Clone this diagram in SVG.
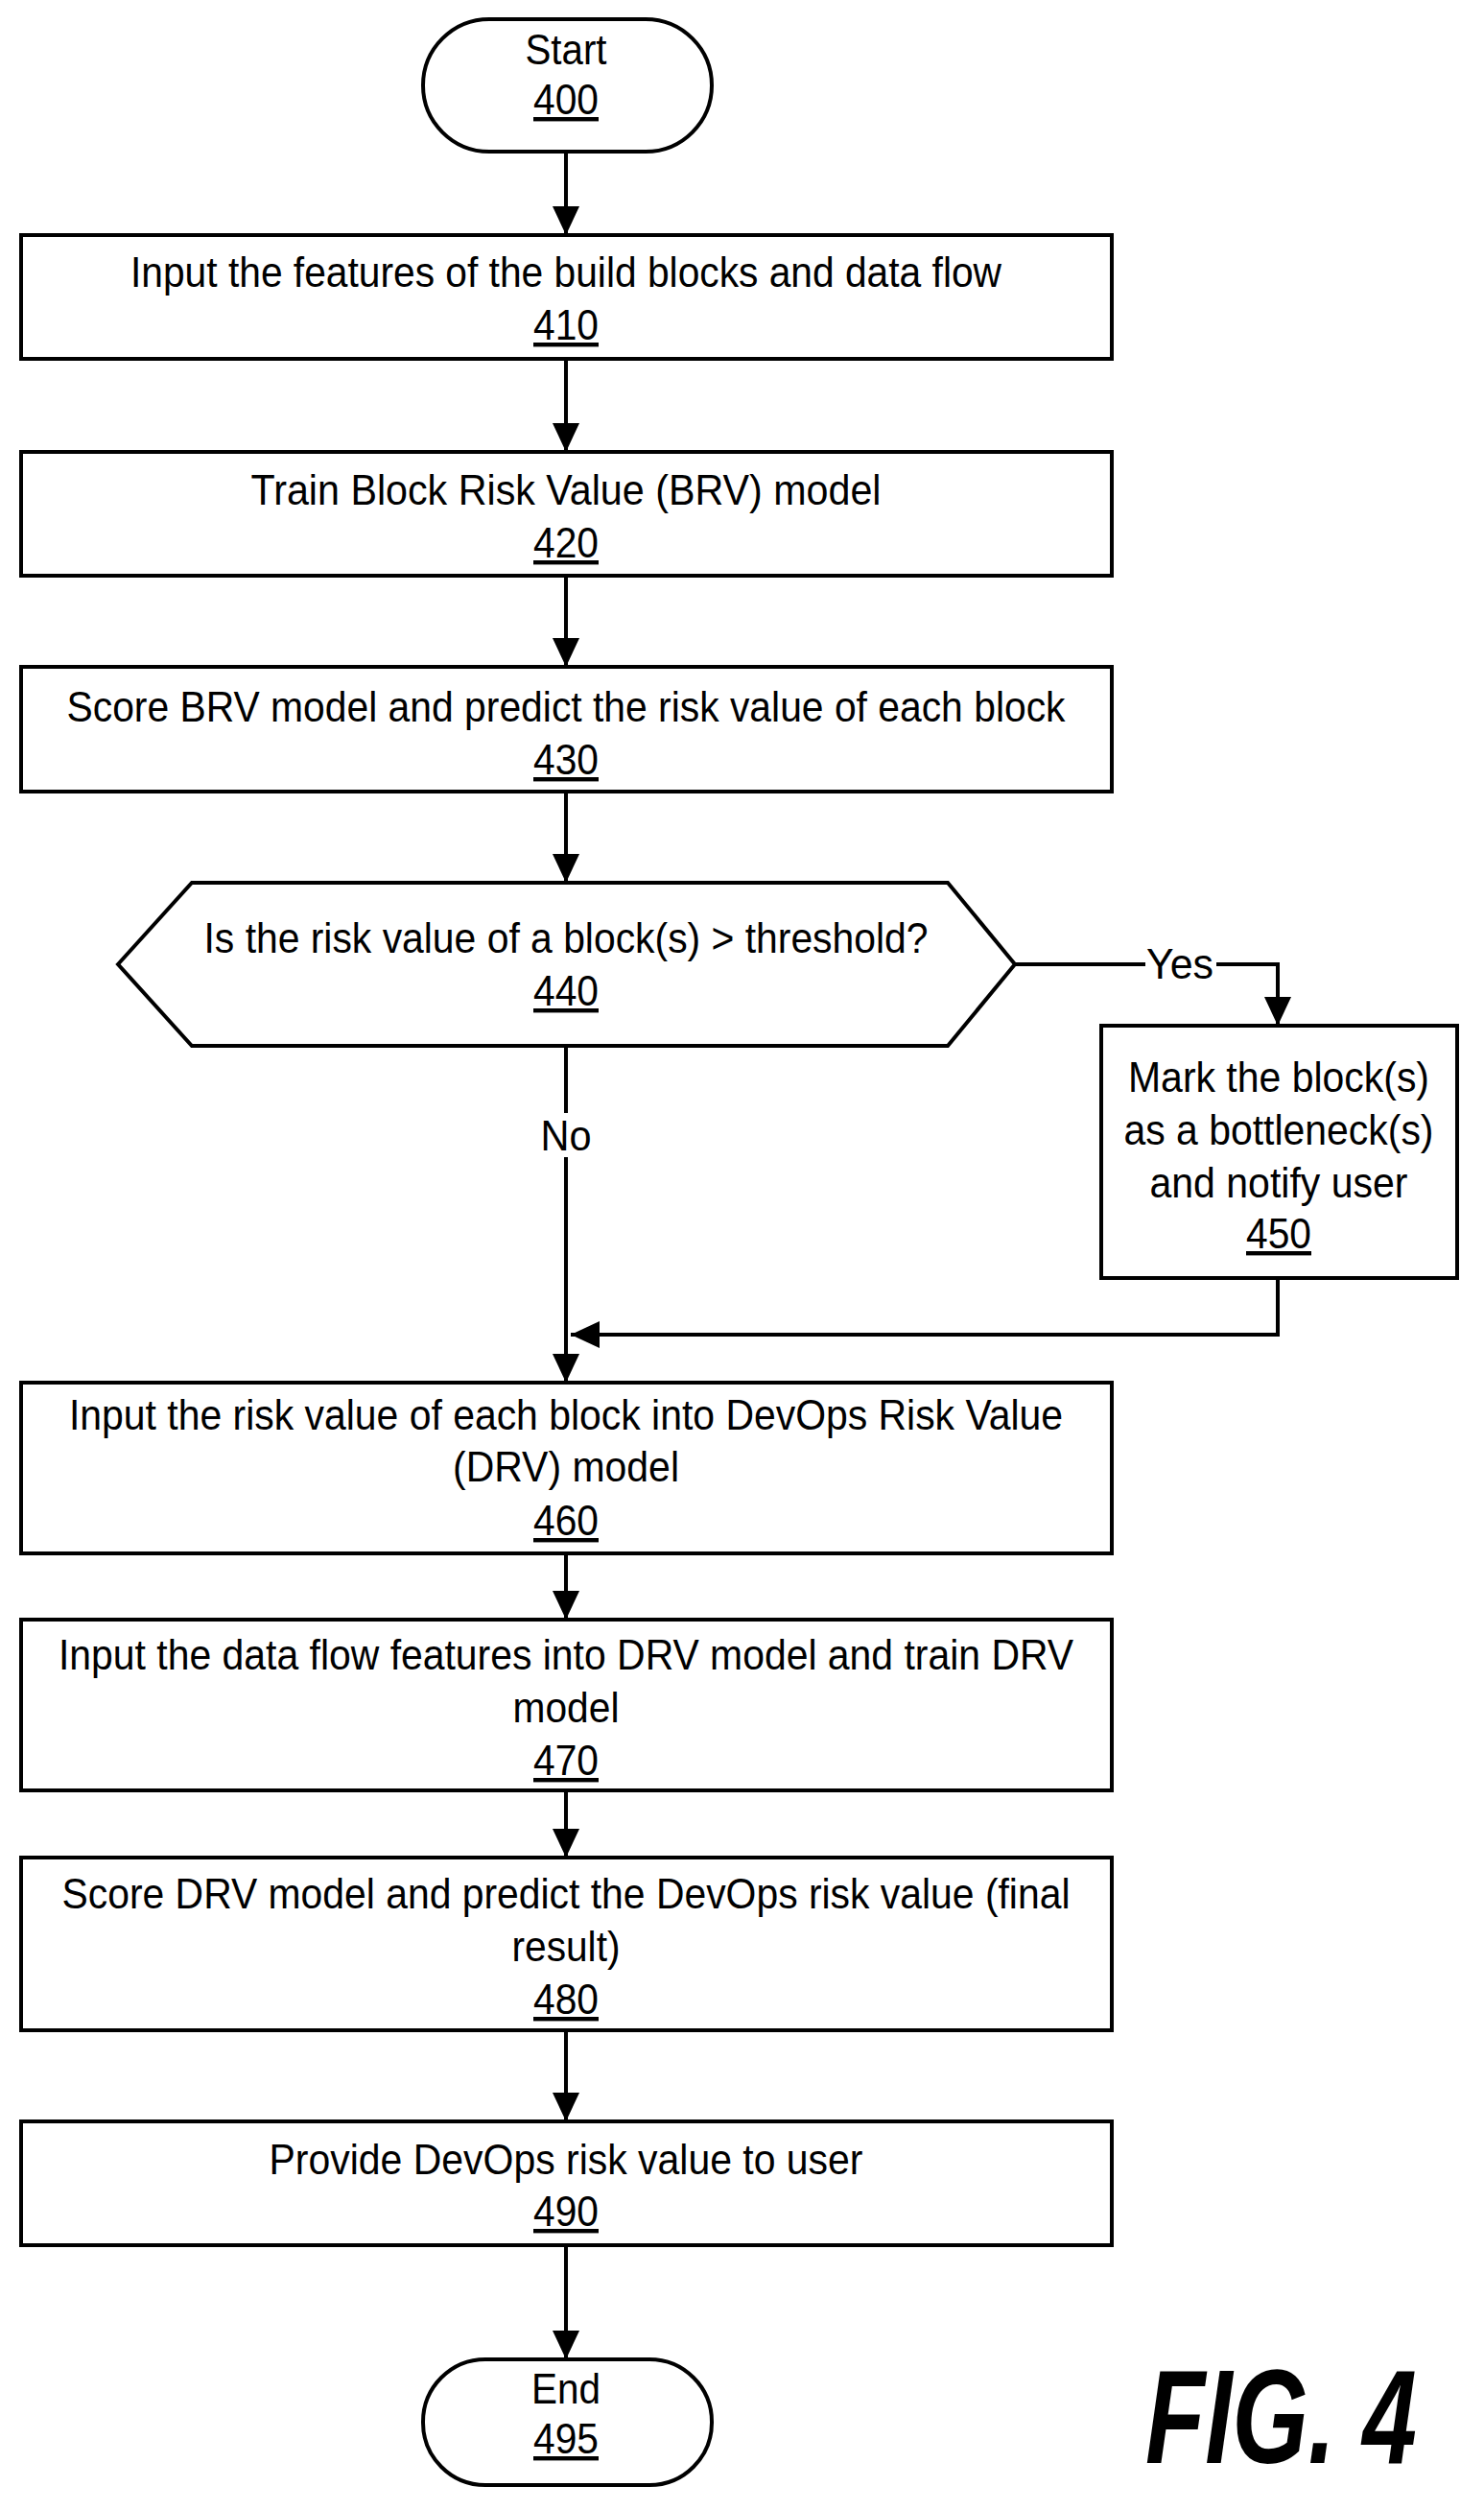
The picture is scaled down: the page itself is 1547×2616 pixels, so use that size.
<svg xmlns="http://www.w3.org/2000/svg" width="1547" height="2616" viewBox="0 0 1547 2616">
<defs>
<marker id="ah" markerUnits="userSpaceOnUse" markerWidth="30" markerHeight="36" refX="30" refY="14" orient="auto">
<path d="M0,0 L30,14 L0,28 Z" fill="#000"/>
</marker>
<style>
.s{fill:#fff;stroke:#000;stroke-width:4}
.t{font-family:"Liberation Sans",Arial,sans-serif;font-size:44px;text-anchor:middle;fill:#000}
.n{text-decoration:underline}
.c{fill:none;stroke:#000;stroke-width:4;marker-end:url(#ah)}
</style>
</defs>
<rect width="1547" height="2616" fill="#fff"/>
<g id="connectors">
<path class="c" d="M590,158 V245"/>
<path class="c" d="M590,374 V471"/>
<path class="c" d="M590,600 V695"/>
<path class="c" d="M590,825 V920"/>
<path class="c" d="M1058,1005 H1332 V1069"/>
<path class="c" d="M590,1090 V1441"/>
<path class="c" d="M1332,1332 V1391 H595"/>
<path class="c" d="M590,1619 V1688"/>
<path class="c" d="M590,1866 V1936"/>
<path class="c" d="M590,2116 V2211"/>
<path class="c" d="M590,2340 V2459"/>
<rect x="1194" y="984" width="74" height="42" fill="#fff"/>
<text class="t" x="1230" y="1020" textLength="70" lengthAdjust="spacingAndGlyphs">Yes</text>
<rect x="560" y="1160" width="60" height="46" fill="#fff"/>
<text class="t" x="590" y="1199" textLength="53" lengthAdjust="spacingAndGlyphs">No</text>
</g>
<g id="n400"><rect class="s" x="441" y="20" width="301" height="138" rx="69"/>
<text class="t" x="590" y="67" textLength="85" lengthAdjust="spacingAndGlyphs">Start</text>
<text class="t n" x="590" y="119" textLength="68" lengthAdjust="spacingAndGlyphs">400</text></g>
<g id="n410"><rect class="s" x="22" y="245" width="1137" height="129"/>
<text class="t" x="590" y="299" textLength="908" lengthAdjust="spacingAndGlyphs">Input the features of the build blocks and data flow</text>
<text class="t n" x="590" y="354" textLength="68" lengthAdjust="spacingAndGlyphs">410</text></g>
<g id="n420"><rect class="s" x="22" y="471" width="1137" height="129"/>
<text class="t" x="590" y="526" textLength="657" lengthAdjust="spacingAndGlyphs">Train Block Risk Value (BRV) model</text>
<text class="t n" x="590" y="581" textLength="68" lengthAdjust="spacingAndGlyphs">420</text></g>
<g id="n430"><rect class="s" x="22" y="695" width="1137" height="130"/>
<text class="t" x="590" y="752" textLength="1041" lengthAdjust="spacingAndGlyphs">Score BRV model and predict the risk value of each block</text>
<text class="t n" x="590" y="807" textLength="68" lengthAdjust="spacingAndGlyphs">430</text></g>
<g id="n440"><path class="s" d="M123,1005 L200,920 H988 L1058,1005 L988,1090 H200 Z"/>
<text class="t" x="590" y="993" textLength="755" lengthAdjust="spacingAndGlyphs">Is the risk value of a block(s) &gt; threshold?</text>
<text class="t n" x="590" y="1048" textLength="68" lengthAdjust="spacingAndGlyphs">440</text></g>
<g id="n450"><rect class="s" x="1148" y="1069" width="371" height="263"/>
<text class="t" x="1333" y="1138" textLength="314" lengthAdjust="spacingAndGlyphs">Mark the block(s)</text>
<text class="t" x="1333" y="1193" textLength="323" lengthAdjust="spacingAndGlyphs">as a bottleneck(s)</text>
<text class="t" x="1333" y="1248" textLength="269" lengthAdjust="spacingAndGlyphs">and notify user</text>
<text class="t n" x="1333" y="1301" textLength="68" lengthAdjust="spacingAndGlyphs">450</text></g>
<g id="n460"><rect class="s" x="22" y="1441" width="1137" height="178"/>
<text class="t" x="590" y="1490" textLength="1036" lengthAdjust="spacingAndGlyphs">Input the risk value of each block into DevOps Risk Value</text>
<text class="t" x="590" y="1544" textLength="236" lengthAdjust="spacingAndGlyphs">(DRV) model</text>
<text class="t n" x="590" y="1600" textLength="68" lengthAdjust="spacingAndGlyphs">460</text></g>
<g id="n470"><rect class="s" x="22" y="1688" width="1137" height="178"/>
<text class="t" x="590" y="1740" textLength="1058" lengthAdjust="spacingAndGlyphs">Input the data flow features into DRV model and train DRV</text>
<text class="t" x="590" y="1795" textLength="111" lengthAdjust="spacingAndGlyphs">model</text>
<text class="t n" x="590" y="1850" textLength="68" lengthAdjust="spacingAndGlyphs">470</text></g>
<g id="n480"><rect class="s" x="22" y="1936" width="1137" height="180"/>
<text class="t" x="590" y="1989" textLength="1051" lengthAdjust="spacingAndGlyphs">Score DRV model and predict the DevOps risk value (final</text>
<text class="t" x="590" y="2044" textLength="113" lengthAdjust="spacingAndGlyphs">result)</text>
<text class="t n" x="590" y="2099" textLength="68" lengthAdjust="spacingAndGlyphs">480</text></g>
<g id="n490"><rect class="s" x="22" y="2211" width="1137" height="129"/>
<text class="t" x="590" y="2266" textLength="619" lengthAdjust="spacingAndGlyphs">Provide DevOps risk value to user</text>
<text class="t n" x="590" y="2320" textLength="68" lengthAdjust="spacingAndGlyphs">490</text></g>
<g id="n495"><rect class="s" x="441" y="2459" width="301" height="131" rx="65"/>
<text class="t" x="590" y="2505" textLength="72" lengthAdjust="spacingAndGlyphs">End</text>
<text class="t n" x="590" y="2557" textLength="68" lengthAdjust="spacingAndGlyphs">495</text></g>
<text x="1194" y="2567" font-family="Liberation Sans,Arial,sans-serif" font-size="140" font-weight="bold" font-style="italic" textLength="283" lengthAdjust="spacingAndGlyphs">FIG. 4</text>
</svg>
